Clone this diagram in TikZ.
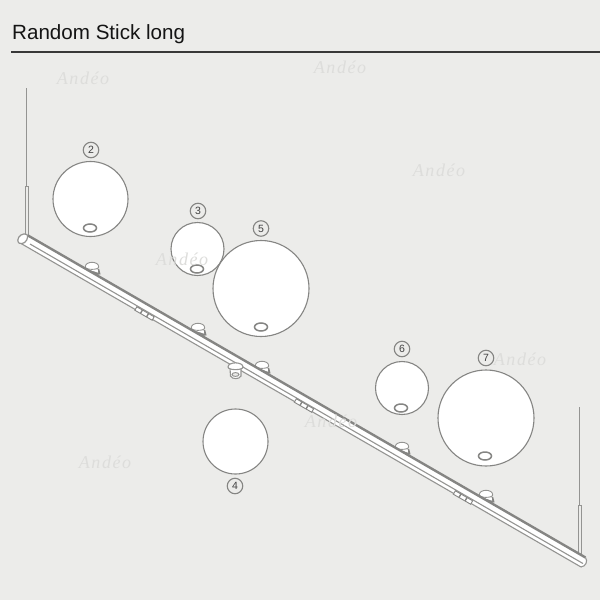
\documentclass[tikz,border=0pt]{standalone}
\usepackage{fontspec}
\setmainfont{Liberation Sans}
\newfontfamily\markfont[LetterSpace=9]{Liberation Serif}
\usetikzlibrary{shapes.geometric}
\definecolor{bg}{HTML}{ECECEA}
\definecolor{ln}{HTML}{858583}
\definecolor{soft}{HTML}{949492}
\definecolor{wm}{HTML}{DDDDDB}
\tikzset{
  glob/.style={circle,draw=ln,line width=1.1pt,fill=white,inner sep=0pt,minimum size=#1},
  badge/.style={circle,draw=ln,line width=1.1pt,inner sep=0pt,minimum size=15.5pt,font=\fontsize{10.5}{10.5}\selectfont,text=black!75},
  hole/.style={ellipse,draw=ln,line width=1.5pt,fill=white,inner sep=0pt,minimum width=13pt,minimum height=8pt},
  wmark/.style={text=wm,font=\markfont\itshape\fontsize{18}{18}\selectfont},
  wire/.style={draw=soft,line width=1.3pt},
  tube/.style={draw=soft,line width=1pt,fill=bg},
}
\newcommand{\socket}[2]{%
  \begin{scope}[shift={(#1,#2)},scale=1.12]
    \fill[ln] (-5.5,1) -- (-1,-0.5) -- (6.5,2) -- (7.6,6.5) -- (5,7) -- cycle;
    \fill[white] (-4,2) -- (5,1.8) -- (5.4,5) -- cycle;
    \draw[soft,line width=0.9pt,fill=white] (-6,0) .. controls (-6,-5.6) and (6,-5.6) .. (6,0) .. controls (6,2.8) and (-6,2.8) .. (-6,0) -- cycle;
  \end{scope}}
\newcommand{\slotmark}[2]{%
  \begin{scope}[shift={(#1,#2)},rotate=-30]
    \draw[ln,line width=0.9pt,fill=white] (-10,-2) rectangle (10,2);
    \fill[ln] (-4.2,-2) rectangle (-2.8,2) (2.8,-2) rectangle (4.2,2);
  \end{scope}}
\begin{document}
\begin{tikzpicture}[x=1pt,y=-1pt]
\useasboundingbox (0,0) rectangle (600,600);
\fill[bg] (0,0) rectangle (600,600);
% title
\node[anchor=base west,inner sep=0pt,font=\fontsize{20.6}{20.6}\selectfont,text=black!92] (title) at (12,39) {Random Stick long};
\coordinate (ruleL) at (11,52);
\coordinate (ruleR) at (600,52);
\draw[black!78,line width=1.1pt] (ruleL) -- (ruleR);
% wires
\coordinate (wA) at (26.7,88); \coordinate (wB) at (26.7,186);
\draw[wire] (wA) -- (wB);
\draw[tube] (25,186) rectangle (28.4,235);
\coordinate (wD) at (579.8,407); \coordinate (wE) at (579.8,505);
\draw[wire] (wD) -- (wE);
\draw[tube] (578,505) rectangle (581.6,554);
% sockets behind bar
\socket{92}{267}
\socket{198}{328}
\socket{262}{366}
\socket{402}{447}
\socket{486}{495}
% bar
\fill[white] (26,235) -- (585,558) .. controls (588,560) and (587,566) .. (582,567.5) -- (20.5,243) .. controls (17,240) and (20,235) .. (26,235) -- cycle;
\draw[ln,line width=2.4pt] (28,235.5) -- (585.5,557.5);
\draw[soft,line width=1.1pt] (20.5,243.2) -- (581,567);
\draw[soft,line width=1.1pt] (30,244) -- (583,563.5);
\draw[soft,line width=1.1pt] (585.5,557.5) .. controls (588,561) and (586,566.5) .. (581,567);
\draw[soft,line width=1.2pt,fill=white] (27,234.5) .. controls (23,232.5) and (18,236) .. (17.8,240) .. controls (17.7,243) and (20.5,244.5) .. (22,243.5) .. controls (26,243.5) and (29,237) .. (27,234.5) -- cycle;
% slots
\slotmark{144.5}{313.5}
\slotmark{304}{405.5}
\slotmark{463}{497.5}
% hanging socket
\draw[soft,line width=1.1pt,fill=white] (230,368) -- (230.5,376) .. controls (232,379.5) and (239.5,379.5) .. (241,376) -- (241,368) -- cycle;
\draw[soft,line width=1.1pt,fill=white] (228,367) .. controls (228,361.5) and (243,361.5) .. (243,367) .. controls (243,370.5) and (228,370.5) .. (228,367) -- cycle;
\draw[soft,line width=1pt,fill=bg] (232,374.5) .. controls (232,372) and (239,372) .. (239,374.5) .. controls (239,377) and (232,377) .. (232,374.5) -- cycle;
% globes
\node[glob=75pt] (g2) at (90.5,199) {};
\node[glob=53pt] (g3) at (197.5,249) {};
\node[glob=96pt] (g5) at (261,288.5) {};
\node[glob=65pt] (g4) at (235.5,441.5) {};
\node[glob=53pt] (g6) at (402,388) {};
\node[glob=96pt] (g7) at (486,418) {};
% holes
\node[hole] (h2) at (90,228) {};
\node[hole] (h3) at (197,269) {};
\node[hole] (h5) at (261,327) {};
\node[hole] (h6) at (401,408) {};
\node[hole] (h7) at (485,456) {};
% badges
\node[badge] (b2) at (91,150) {2};
\node[badge] (b3) at (198,211) {3};
\node[badge] (b5) at (261,228.5) {5};
\node[badge] (b4) at (235,486) {4};
\node[badge] (b6) at (402,349) {6};
\node[badge] (b7) at (486,358) {7};
% watermarks
\node[wmark] (w1) at (83,78) {Andéo};
\node[wmark] (w2) at (340,67) {Andéo};
\node[wmark] (w3) at (439,170) {Andéo};
\node[wmark] (w4) at (182,259) {Andéo};
\node[wmark] (w5) at (105,462) {Andéo};
\node[wmark] (w6) at (331,421) {Andéo};
\node[wmark] (w7) at (520,359) {Andéo};
\end{tikzpicture}
\end{document}
